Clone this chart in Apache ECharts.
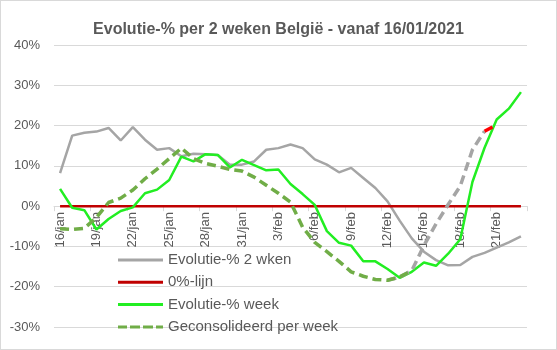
<!DOCTYPE html>
<html>
<head>
<meta charset="utf-8">
<script src="https://cdn.jsdelivr.net/npm/echarts@6/dist/echarts.min.js"></script>
<style>
  html, body { margin: 0; padding: 0; background: #fff; }
  #wrap { position: relative; width: 557px; height: 350px; }
  #chart { width: 557px; height: 350px; }
  #frame { position: absolute; left: 0; top: 0; right: 0; bottom: 0; border: 1px solid #d9d9d9; pointer-events: none; }
</style>
</head>
<body>
<div id="wrap"><div id="chart"></div><div id="frame"></div></div>
<script>
// Dates (day/month) from 16 January to 23 February 2021
const categories = [
  '16/jan','17/jan','18/jan','19/jan','20/jan','21/jan','22/jan','23/jan','24/jan','25/jan',
  '26/jan','27/jan','28/jan','29/jan','30/jan','31/jan','1/feb','2/feb','3/feb','4/feb',
  '5/feb','6/feb','7/feb','8/feb','9/feb','10/feb','11/feb','12/feb','13/feb','14/feb',
  '15/feb','16/feb','17/feb','18/feb','19/feb','20/feb','21/feb','22/feb','23/feb'
];

// Evolution (%) over two weeks
const evo2Weeks = [
  8.2, 17.5, 18.2, 18.5, 19.4, 16.3, 19.6, 16.5, 14.0, 14.4,
  12.4, 13.0, 12.9, 12.7, 10.3, 10.3, 11.1, 14.0, 14.4, 15.3,
  14.4, 11.6, 10.3, 8.4, 9.5, 7.0, 4.5, 1.2, -3.6, -8.0,
  -11.3, -13.4, -14.7, -14.6, -12.6, -11.6, -10.3, -9.0, -7.5
];

// Reference line at 0%
const zeroLine = [
  0, 0, 0, 0, 0, 0, 0, 0, 0, 0,
  0, 0, 0, 0, 0, 0, 0, 0, 0, 0,
  0, 0, 0, 0, 0, 0, 0, 0, 0, 0,
  0, 0, 0, 0, 0, 0, 0, 0, 0
];

// Evolution (%) per week
const evoWeek = [
  4.3, -0.4, -1.0, -5.8, -3.2, -1.2, -0.3, 3.2, 4.1, 6.5,
  12.3, 11.1, 12.9, 12.7, 9.6, 11.5, 10.2, 8.9, 9.1, 5.5,
  3.0, 0.3, -6.2, -9.1, -9.8, -13.7, -13.7, -15.6, -17.8, -16.3,
  -14.0, -14.8, -11.8, -8.2, 6.0, 14.5, 21.5, 24.2, 28.3
];

// Consolidated weekly values
const consolidated = [
  -5.6, -5.8, -5.5, -2.8, 0.9, 2.0, 4.0, 6.8, 9.2, 11.8,
  14.4, 11.8, 10.6, 9.9, 9.1, 8.7, 7.2, 5.2, 3.2, 1.0,
  -5.2, -9.0, -11.3, -13.7, -16.3, -17.4, -18.2, -18.4, -17.6, -16.0,
  null, null, null, null, null, null, null, null, null
];

// Provisional continuation of the consolidated values
const provisional = [
  null, null, null, null, null, null, null, null, null, null,
  null, null, null, null, null, null, null, null, null, null,
  null, null, null, null, null, null, null, -18.4, -17.6, -16.0,
  -9.8, -4.4, 0.4, 5.0, 14.0, 18.6, null, null, null
];

// Latest provisional step
const latest = [
  null, null, null, null, null, null, null, null, null, null,
  null, null, null, null, null, null, null, null, null, null,
  null, null, null, null, null, null, null, null, null, null,
  null, null, null, null, null, 18.6, 20.2, null, null
];

const yTicks = { min: -30, max: 40, step: 10 };

const textColor = '#595959';
const gridColor = '#d9d9d9';
const font = '"Liberation Sans", Arial, sans-serif';

const gridTop = 45;
const gridBottom = 23;
const plotHeight = 350 - gridTop - gridBottom;
// the category axis sits on the 0% level, as in a spreadsheet chart
const zeroOffset = -plotHeight * (0 - yTicks.min) / (yTicks.max - yTicks.min);

// legend keys: a plain stroke and a dashed stroke
const solidKey = 'path://M0,0h45v3h-45z';
const dashedKey = 'path://M0,0h9v3h-9z M12,0h10v3h-10z M25,0h10v3h-10z M38,0h7v3h-7z';

const chart = echarts.init(document.getElementById('chart'), null, { renderer: 'canvas' });

function lineSeries(name, data, color, width, dash, z) {
  return {
    name: name,
    type: 'line',
    data: data,
    symbol: 'none',
    showSymbol: false,
    connectNulls: false,
    z: z,
    lineStyle: { color: color, width: width, type: dash || 'solid', cap: 'butt' },
    itemStyle: { color: color }
  };
}

chart.setOption({
  animation: false,
  backgroundColor: '#ffffff',
  title: {
    text: 'Evolutie-% per 2 weken België - vanaf 16/01/2021',
    left: 'center',
    top: 17,
    textStyle: { color: textColor, fontSize: 16, fontWeight: 'bold', fontFamily: font }
  },
  grid: { left: 54, right: 30, top: gridTop, bottom: gridBottom, containLabel: false },
  legend: {
    orient: 'vertical',
    left: 118,
    top: 252.5,
    itemWidth: 45,
    itemHeight: 3,
    itemGap: 7.3,
    itemTextGap: 5,
    padding: 0,
    data: [
      { name: 'Evolutie-% 2 wken', icon: solidKey },
      { name: '0%-lijn', icon: solidKey },
      { name: 'Evolutie-% week', icon: solidKey },
      { name: 'Geconsolideerd per week', icon: dashedKey }
    ],
    textStyle: { color: textColor, fontSize: 15, fontFamily: font, lineHeight: 15 }
  },
  xAxis: {
    type: 'category',
    data: categories,
    boundaryGap: true,
    position: 'bottom',
    offset: zeroOffset,
    axisLine: { show: true, onZero: false, lineStyle: { color: gridColor } },
    axisTick: { show: true, interval: 2, length: 5, lineStyle: { color: gridColor } },
    axisLabel: { interval: 2, rotate: 90, margin: 6, color: textColor, fontSize: 13, fontFamily: font }
  },
  yAxis: {
    type: 'value',
    min: yTicks.min,
    max: yTicks.max,
    interval: yTicks.step,
    axisLine: { show: false },
    axisTick: { show: false },
    axisLabel: { formatter: '{value}%', margin: 14, color: textColor, fontSize: 13, fontFamily: font },
    splitLine: { lineStyle: { color: gridColor, width: 1 } }
  },
  series: [
    lineSeries('Evolutie-% 2 wken', evo2Weeks, '#a5a5a5', 2.5, 'solid', 2),
    lineSeries('0%-lijn', zeroLine, '#c00000', 2.5, 'solid', 3),
    lineSeries('Evolutie-% week', evoWeek, '#22ee22', 2.5, 'solid', 4),
    lineSeries('Geconsolideerd per week', consolidated, '#70ad47', 3.5, [9, 5], 5),
    lineSeries('voorlopig', provisional, '#a5a5a5', 3.5, [9, 5], 4),
    lineSeries('laatste', latest, '#ff0000', 3.5, [9, 5], 6)
  ]
});
</script>
</body>
</html>
